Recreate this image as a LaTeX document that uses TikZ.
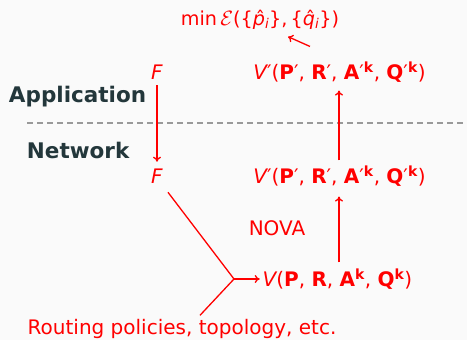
\documentclass[tikz,border=0pt]{standalone}
\usepackage{fontspec}
\setmainfont{DejaVu Sans}
\usetikzlibrary{arrows.meta,calc}
\definecolor{pagebg}{HTML}{FAFAFA}
\definecolor{labelc}{HTML}{23373B}
\definecolor{sepc}{HTML}{999999}
\definecolor{hot}{HTML}{FF0000}
\newcommand\iv[1]{{\itshape #1}}
\newcommand\bv[1]{{\bfseries #1}}
\newcommand\pr{′}
\newcommand\supk{\textsuperscript{\bfseries k}}
\begin{document}
\begin{tikzpicture}[x=1pt,y=-1pt,
  every node/.style={inner sep=0pt, outer sep=0pt},
  eq/.style={text=hot, font=\fontsize{20}{24}\selectfont},
  side/.style={text=labelc, font=\fontsize{21.5}{25}\selectfont\bfseries},
  arr/.style={draw=hot, line width=1.3pt, -{To[length=5pt,width=8pt]}},
  ln/.style={draw=hot, line width=1.3pt}]
\fill[pagebg] (0,0) rectangle (467,340);
\useasboundingbox (0,0) rectangle (467,340);

% objective
\node[eq, font=\fontsize{19.2}{23}\selectfont] (obj) at (260,20) {min\,$\mathcal{E}$(\{\^{\iv{p}}\textsubscript{\iv{i}}\},\,\{\^{\iv{q}}\textsubscript{\iv{i}}\})};

% application layer
\node[eq] (ftop) at (157,72) {\iv{F}};
\node[eq] (vtop) at (339.5,72) {\iv{V}\pr(\bv{P}\pr, \bv{R}\pr, \bv{A}\pr\supk, \bv{Q}\pr\supk)};
\node[side, anchor=west] (app) at (9,97) {Application};

% layer separator
\coordinate (sepl) at (27,123);
\coordinate (sepr) at (467,123);
\draw[sepc, line width=1.2pt, dash pattern=on 6pt off 4pt] (sepl) -- (sepr);

% network layer
\node[side, anchor=west] (net) at (27,150) {Network};
\node[eq] (fbot) at (157,176) {\iv{F}};
\node[eq] (vmid) at (339.5,176) {\iv{V}\pr(\bv{P}\pr, \bv{R}\pr, \bv{A}\pr\supk, \bv{Q}\pr\supk)};
\node[eq] (nova) at (277,228) {NOVA};
\node[eq] (vbot) at (337.5,279) {\iv{V}(\bv{P}, \bv{R}, \bv{A}\supk, \bv{Q}\supk)};
\node[eq] (rout) at (182,329) {Routing policies, topology, etc.};

% connectors
\coordinate (join) at (234,279);
\draw[arr] (vtop.north -| 310,0) ++(0,-15) -- ($(obj.south -| 288,0)+(0,7)$);
\draw[arr] ($(ftop.south)+(0,6)$) -- ($(fbot.north)+(0,-7)$);
\draw[arr] ($(vmid.north)+(-0.5,-5)$) -- ($(vtop.south)+(-0.5,8)$);
\draw[arr] ($(vbot.north -| vmid.south)+(-0.5,-6)$) -- ($(vmid.south)+(-0.5,10)$);
\draw[ln] ($(fbot.south)+(11,9)$) -- (join);
\draw[ln] ($(rout.north)+(18,-4)$) -- (join);
\draw[arr] (join) -- ($(vbot.west)+(-3,0)$);
\end{tikzpicture}
\end{document}
